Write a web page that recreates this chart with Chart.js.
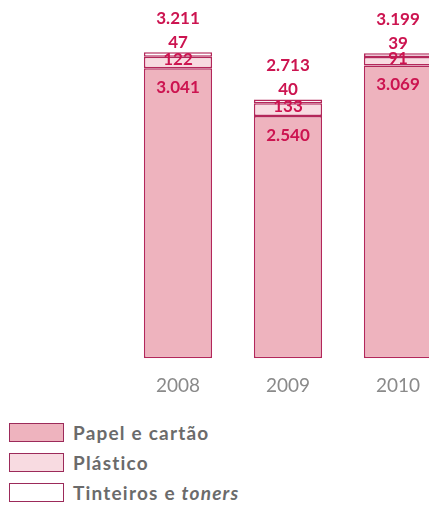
<!DOCTYPE html>
<html>
<head>
<meta charset="utf-8">
<script src="https://cdn.jsdelivr.net/npm/chart.js@4.4.1/dist/chart.umd.min.js"></script>
<style>
  html,body{margin:0;padding:0;background:#fff;overflow:hidden;width:429px;height:508px}
  #wrap{position:absolute;left:0;top:0;width:460px;height:409px}
  #legend{position:absolute;left:9px;top:423px;font-family:Lato,sans-serif;font-weight:bold;font-size:19px;letter-spacing:1.2px;color:#6b6b6b}
  .item{height:30px;display:flex;align-items:flex-start}
  .sw{width:53px;height:17px;border:1.5px solid #9c2a5a;margin-right:9px;box-sizing:content-box}
  .lbl{line-height:19px}
</style>
</head>
<body>
<div id="wrap"><canvas id="c" width="460" height="409"></canvas></div>
<div id="legend"></div>
<script>
const years = ['2008', '2009', '2010'];
const papel = [3041, 2540, 3069];
const plastico = [122, 133, 91];
const tinteiros = [47, 40, 39];
const totais = [3211, 2713, 3199];

const cor = '#cc1450';
const borda = '#b3275a';
const fmt = n => String(n).replace(/\B(?=(\d{3})+(?!\d))/g, '.');

// rotulos dos valores
const rotulos = {
  id: 'rotulos',
  afterDatasetsDraw(chart){
    const c = chart.ctx;
    c.save();
    c.fillStyle = cor;
    c.font = 'bold 17px Lato, sans-serif';
    c.textAlign = 'center';
    c.textBaseline = 'middle';
    const mP = chart.getDatasetMeta(0), mL = chart.getDatasetMeta(1), mT = chart.getDatasetMeta(2);
    years.forEach((_, i) => {
      const p = mP.data[i], l = mL.data[i], t = mT.data[i];
      c.fillText(fmt(totais[i]), t.x, t.y - 34);
      c.fillText(fmt(tinteiros[i]), t.x, t.y - 10);
      c.fillText(fmt(plastico[i]), l.x, (l.y + l.base) / 2 - 3);
      c.fillText(fmt(papel[i]), p.x, p.y + 19);
    });
    c.restore();
  }
};

const series = [
  { label: 'Papel e cartão', data: papel, bg: '#eeb3be' },
  { label: 'Plástico', data: plastico, bg: '#f8dbe1' },
  { label: 'Tinteiros e toners', data: tinteiros, bg: '#ffffff' }
];

new Chart(document.getElementById('c'), {
  type: 'bar',
  data: {
    labels: years,
    datasets: series.map(s => ({
      label: s.label, data: s.data, backgroundColor: s.bg,
      borderColor: borda, borderWidth: 1.5, borderSkipped: false,
      barPercentage: 0.62, categoryPercentage: 1
    }))
  },
  options: {
    responsive: false, animation: false,
    layout: { padding: { left: 123, right: 7, top: 0, bottom: 4 } },
    plugins: { legend: { display: false }, tooltip: { enabled: false } },
    scales: {
      x: { stacked: true, grid: { display: false }, border: { display: false },
           ticks: { color: '#8a8a8a', font: { family: 'Lato', size: 19 }, padding: 8 } },
      y: { stacked: true, display: false, min: 0, max: 3757 }
    }
  },
  plugins: [rotulos]
});

document.getElementById('legend').innerHTML = series.map(s =>
  `<div class="item"><div class="sw" style="background:${s.bg}"></div><div class="lbl">${
    s.label === 'Tinteiros e toners' ? 'Tinteiros e <i>toners</i>' : s.label}</div></div>`).join('');
</script>
</body>
</html>
